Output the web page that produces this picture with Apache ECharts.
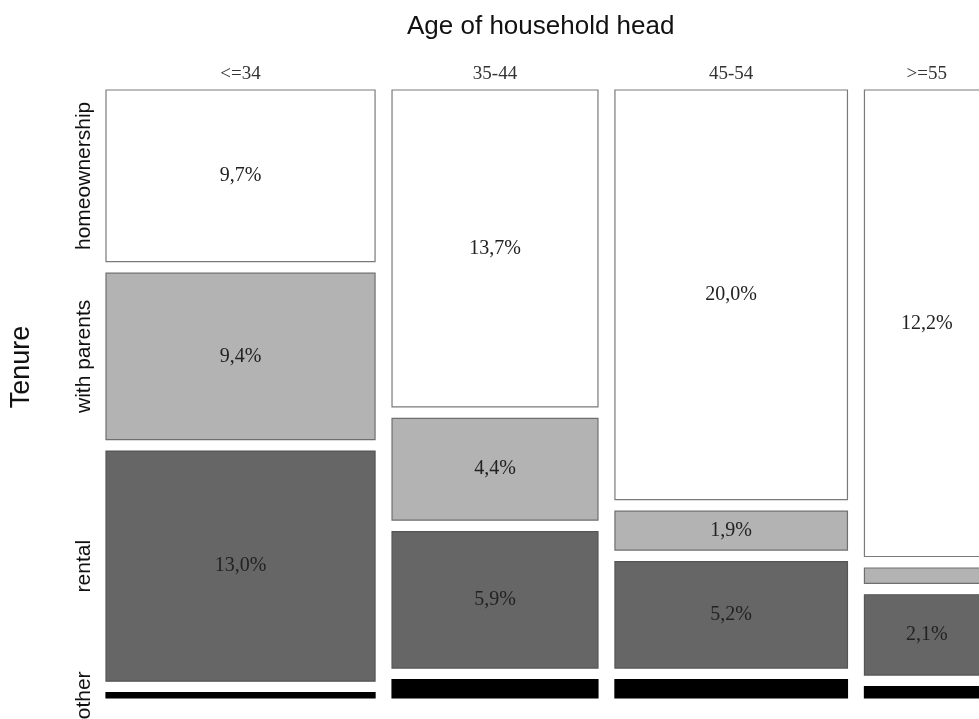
<!DOCTYPE html>
<html>
<head>
<meta charset="utf-8">
<script src="https://cdn.jsdelivr.net/npm/echarts@6/dist/echarts.min.js"></script>
<style>
html,body{margin:0;padding:0;background:#fff;}
#chart{width:979px;height:719px;}
</style>
</head>
<body>
<div id="chart"></div>
<script>
// ---- data (percent of all households) ----
const ages = ['<=34', '35-44', '45-54', '>=55'];
const tenures = ['homeownership', 'with parents', 'rental', 'other'];
const homeownership = [9.7, 13.7, 20.0, 12.2];
const withParents = [9.4, 4.4, 1.9, 0.4];
const rental = [13.0, 5.9, 5.2, 2.1];
const other = [0.3, 0.8, 0.9, 0.3];
const cellLabels = [
  ['9,7%', '13,7%', '20,0%', '12,2%'],
  ['9,4%', '4,4%', '1,9%', ''],
  ['13,0%', '5,9%', '5,2%', '2,1%'],
  ['', '', '', '']
];

const series = [homeownership, withParents, rental, other];
const fills = ['#ffffff', '#b3b3b3', '#666666', '#000000'];
const strokes = ['#7a7a7a', '#6e6e6e', '#555555', '#000000'];

// gaps between tiles, in axis units
const XGAP = 2.04;
const YGAP = 2.0;

// build mosaic tiles from the arrays
const colTotals = ages.map((a, j) => series.reduce((s, arr) => s + arr[j], 0));
const grand = colTotals.reduce((s, v) => s + v, 0);
const tiles = [];
let cx = 0;
ages.forEach((a, j) => {
  const w = colTotals[j] / grand * 100;
  let cy = 0;
  series.forEach((arr, i) => {
    const h = arr[j] / colTotals[j] * 100;
    tiles.push([cx, cx + w, cy, cy + h, arr[j], i, j]);
    cy += h + YGAP;
  });
  cx += w + XGAP;
});
const xMax = 100 + XGAP * (ages.length - 1);
const yMax = 100 + YGAP * (tenures.length - 1);

const chart = echarts.init(document.getElementById('chart'), null, {renderer: 'canvas'});
chart.setOption({
  animation: false,
  backgroundColor: '#ffffff',
  title: {
    text: 'Age of household head',
    left: 402,
    top: 9,
    textStyle: {fontFamily: 'Liberation Sans', fontSize: 26, fontWeight: 'normal', color: '#111'}
  },
  graphic: [{
    type: 'text',
    x: 22, y: 367,
    rotation: Math.PI / 2,
    style: {text: 'Tenure', fontFamily: 'Liberation Sans', fontSize: 27, fill: '#111',
            align: 'center', verticalAlign: 'middle'}
  }],
  grid: {left: 106, top: 90, width: 883, height: 608, containLabel: false, outerBoundsMode: 'none'},
  xAxis: {
    type: 'value', min: 0, max: xMax,
    axisLine: {show: false}, axisTick: {show: false}, axisLabel: {show: false}, splitLine: {show: false}
  },
  yAxis: {
    type: 'value', min: 0, max: yMax, inverse: true,
    axisLine: {show: false}, axisTick: {show: false}, axisLabel: {show: false}, splitLine: {show: false}
  },
  series: [{
    type: 'custom',
    data: tiles,
    encode: {x: [0, 1], y: [2, 3]},
    renderItem: function (params, api) {
      const x0 = api.value(0), x1 = api.value(1), y0 = api.value(2), y1 = api.value(3);
      const ti = api.value(5), aj = api.value(6);
      const p0 = api.coord([x0, y0]);
      const p1 = api.coord([x1, y1]);
      const children = [{
        type: 'rect',
        shape: {x: p0[0], y: p0[1], width: p1[0] - p0[0], height: Math.max(p1[1] - p0[1], 1)},
        style: {fill: fills[ti], stroke: strokes[ti], lineWidth: 1.2}
      }];
      const lab = cellLabels[ti][aj];
      if (lab) {
        children.push({
          type: 'text',
          x: (p0[0] + p1[0]) / 2, y: (p0[1] + p1[1]) / 2,
          style: {text: lab, fontFamily: 'Liberation Serif', fontSize: 20, fill: '#222',
                  align: 'center', verticalAlign: 'middle'}
        });
      }
      if (ti === 0) {
        children.push({
          type: 'text',
          x: (p0[0] + p1[0]) / 2, y: p0[1] - 16,
          style: {text: ages[aj], fontFamily: 'Liberation Serif', fontSize: 19, fill: '#333',
                  align: 'center', verticalAlign: 'middle'}
        });
      }
      if (aj === 0) {
        children.push({
          type: 'text',
          x: p0[0] - 22, y: (p0[1] + p1[1]) / 2,
          rotation: Math.PI / 2,
          style: {text: tenures[ti], fontFamily: 'Liberation Sans', fontSize: 21, fill: '#111',
                  align: 'center', verticalAlign: 'middle'}
        });
      }
      return {type: 'group', children: children};
    }
  }]
});
</script>
</body>
</html>
